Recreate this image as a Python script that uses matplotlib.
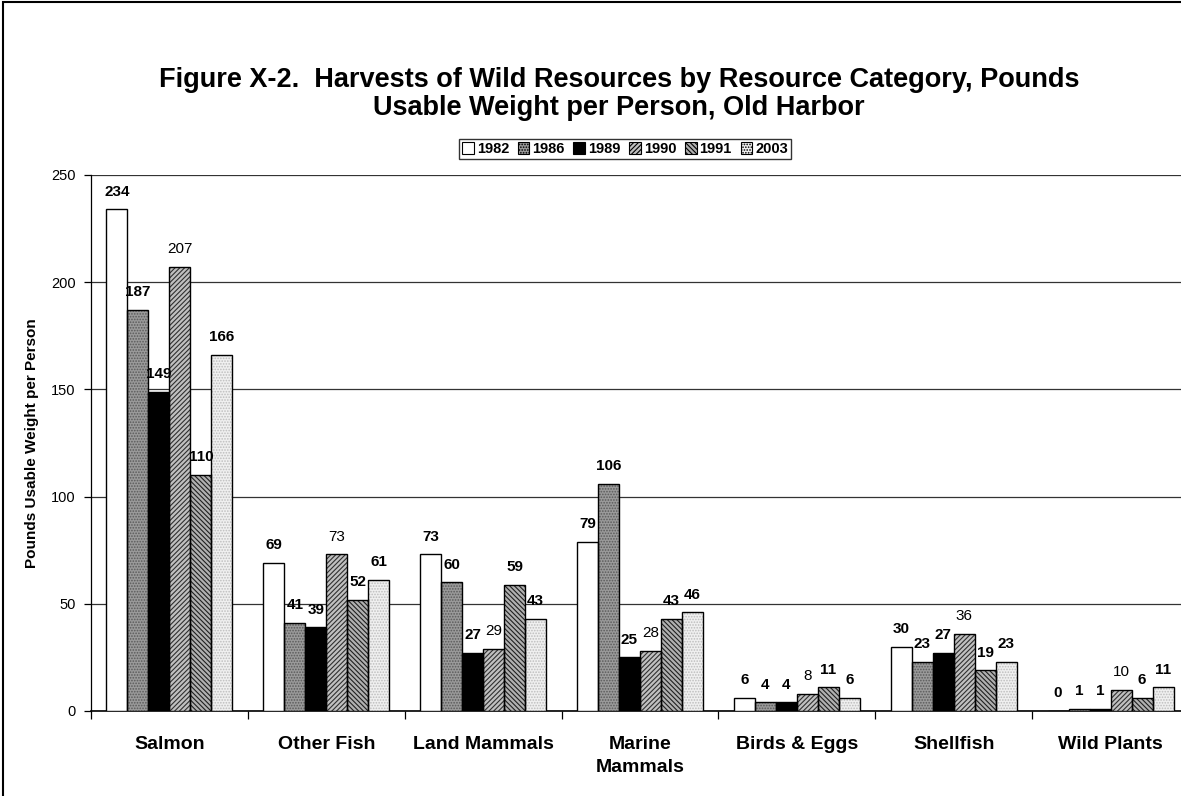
import matplotlib
matplotlib.use("Agg")
import matplotlib.pyplot as plt
import numpy as np
from matplotlib.patches import Rectangle

plt.rcParams['font.family'] = ['Liberation Sans', 'DejaVu Sans']
plt.rcParams['hatch.linewidth'] = 0.8

categories = ["Salmon", "Other Fish", "Land Mammals", "Marine\nMammals",
              "Birds & Eggs", "Shellfish", "Wild Plants"]
years = ["1982", "1986", "1989", "1990", "1991", "2003"]

v1982 = [234, 69, 73, 79, 6, 30, 0]
v1986 = [187, 41, 60, 106, 4, 23, 1]
v1989 = [149, 39, 27, 25, 4, 27, 1]
v1990 = [207, 73, 29, 28, 8, 36, 10]
v1991 = [110, 52, 59, 43, 11, 19, 6]
v2003 = [166, 61, 43, 46, 6, 23, 11]
series = [v1982, v1986, v1989, v1990, v1991, v2003]

# fill / hatch per year (black-and-white print style)
faces = ["white", "#9a9a9a", "black", "#c0c0c0", "#b0b0b0", "#f0f0f0"]
hatches = [None, "......", None, "///////", "\\\\\\\\\\\\\\", "......"]
hatch_cols = ["black", "#5a5a5a", "black", "#303030", "#202020", "#bdbdbd"]
label_bold = [True, True, True, False, True, True]

W, H = 1181, 796
fig = plt.figure(figsize=(W / 100, H / 100), dpi=100)

# plot area in pixel coordinates
left, right, top, bottom = 91, 1189, 175, 711
ax = fig.add_axes([left / W, 1 - bottom / H, (right - left) / W, (bottom - top) / H])

n = len(categories)
x = np.arange(n)
bw = 0.134
for i, (vals, fc, hc, hcol, bold) in enumerate(zip(series, faces, hatches, hatch_cols, label_bold)):
    pos = x + (i - 2.5) * bw
    ax.bar(pos, vals, width=bw, facecolor=fc, edgecolor=hcol,
           hatch=hc, linewidth=0, zorder=3, label=years[i])
    # solid black outline drawn separately so the hatch colour stays independent
    ax.bar(pos, vals, width=bw, facecolor="none", edgecolor="black",
           linewidth=1.0, zorder=4)
    for p, v in zip(pos, vals):
        ax.text(p, v + 5, str(v), ha="center", va="bottom",
                fontsize=11, fontweight="bold" if bold else "normal", zorder=5)

ax.set_xlim(-0.5, n - 0.5)
ax.set_ylim(0, 250)
ax.set_yticks([0, 50, 100, 150, 200, 250])
ax.yaxis.grid(True, color="#333333", linewidth=0.9, zorder=0)
ax.set_axisbelow(True)
ax.tick_params(axis="y", direction="out", length=5, width=0.9, labelsize=10.5, pad=6)
for s in ["top", "right"]:
    ax.spines[s].set_visible(False)
ax.spines["left"].set_linewidth(0.9)
ax.spines["bottom"].set_linewidth(1.2)

ax.set_xticks(np.arange(n + 1) - 0.5)
ax.set_xticklabels([])
ax.tick_params(axis="x", direction="out", length=6, width=0.9)
for xi, c in zip(x, categories):
    ax.text(xi, -11.5, c, ha="center", va="top", fontsize=14, fontweight="bold",
            linespacing=1.5)

ax.set_ylabel("Pounds Usable Weight per Person", fontsize=11, fontweight="bold", labelpad=9)

title_lines = ["Figure X-2.  Harvests of Wild Resources by Resource Category, Pounds",
               "Usable Weight per Person, Old Harbor"]
fig.text(619 / W, 1 - 80 / H, title_lines[0], ha="center", va="center",
         fontsize=19.5, fontweight="bold")
fig.text(619 / W, 1 - 108 / H, title_lines[1], ha="center", va="center",
         fontsize=19.5, fontweight="bold")

handles = [Rectangle((0, 0), 1, 1, facecolor=fc, edgecolor="black", hatch=hc, linewidth=0.8)
           for fc, hc in zip(faces, hatches)]
leg = fig.legend(handles, years, loc="center", bbox_to_anchor=(625 / W, 1 - 149 / H),
                 ncol=6, frameon=True, fancybox=False, edgecolor="black",
                 prop={"weight": "bold", "size": 10.5}, handlelength=0.8, handleheight=0.8,
                 handletextpad=0.2, columnspacing=0.6, borderpad=0.2, borderaxespad=0)
leg.get_frame().set_linewidth(1.0)

# outer chart frame
fig.patches.append(Rectangle((3 / W, -0.01), 1.02, 1 - 2 / H + 0.01, transform=fig.transFigure,
                             fill=False, edgecolor="black", linewidth=1.5))

fig.savefig("out.png", dpi=100)
